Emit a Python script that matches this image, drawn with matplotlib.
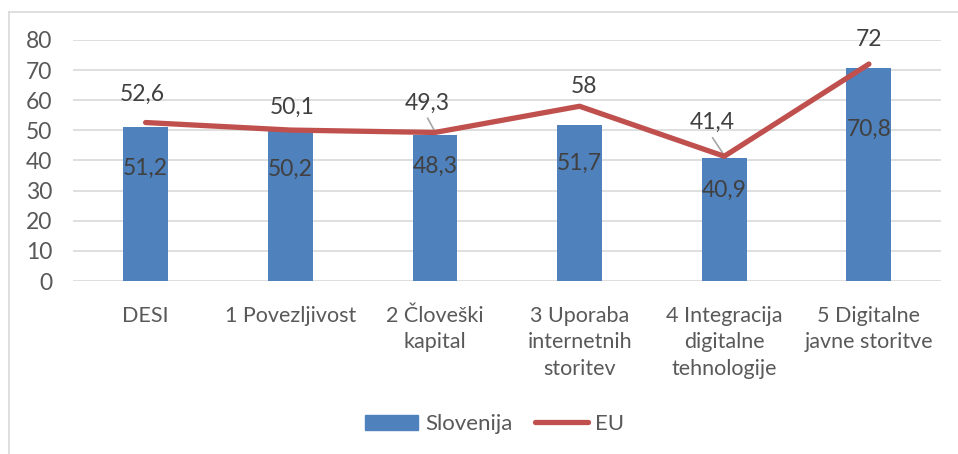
import matplotlib.pyplot as plt
import numpy as np
from matplotlib.lines import Line2D
from matplotlib.patches import Patch

plt.rcParams['font.family'] = ['Lato', 'DejaVu Sans']

categories = ["DESI", "1 Povezljivost", "2 Človeški\nkapital",
              "3 Uporaba\ninternetnih\nstoritev", "4 Integracija\ndigitalne\ntehnologije",
              "5 Digitalne\njavne storitve"]
slovenija = [51.2, 50.2, 48.3, 51.7, 40.9, 70.8]
eu = [52.6, 50.1, 49.3, 58, 41.4, 72]

# label positions (data units)
slo_label_y = [37.5, 37.2, 37.9, 39.2, 30.2, 50.2]
eu_label_y = [61.8, 57.8, 59.1, 64.5, 52.8, 80.0]
eu_label_dx = [-0.02, 0.01, -0.05, 0.03, -0.08, 0.0]

blue = "#4F81BD"
red = "#C0504D"
txt = "#404040"

fig = plt.figure(figsize=(9.58, 4.54), dpi=100)
ax = fig.add_axes([0.0765, 0.381, 0.906, 0.531])

# frame around the chart (only top and left visible)
fig.add_artist(Line2D([9/958, 9/958], [0, 1 - 12/454], transform=fig.transFigure,
                      color="#D9D9D9", lw=1.2))
fig.add_artist(Line2D([9/958, 1], [1 - 12/454, 1 - 12/454], transform=fig.transFigure,
                      color="#D9D9D9", lw=1.2))

x = np.arange(len(categories))
ax.bar(x, slovenija, width=0.31, color=blue, zorder=2)
ax.plot(x, eu, color=red, lw=3.8, solid_capstyle="round", zorder=3)

for i in range(len(x)):
    ax.text(x[i], slo_label_y[i], f"{slovenija[i]:g}".replace(".", ","),
            ha="center", va="center", fontsize=16.5, color=txt, zorder=4)
    ax.text(x[i] + eu_label_dx[i], eu_label_y[i], f"{eu[i]:g}".replace(".", ","),
            ha="center", va="center", fontsize=16.5, color=txt, zorder=4)

# leader lines
ax.plot([1.95, 2.0], [54.0, 49.6], color="#A6A6A6", lw=1.2, zorder=2)
ax.plot([3.92, 4.0], [47.5, 41.7], color="#A6A6A6", lw=1.2, zorder=2)

ax.set_xlim(-0.5, 5.5)
ax.set_ylim(0, 80)
ax.set_yticks(np.arange(0, 81, 10))
ax.yaxis.grid(True, color="#D9D9D9", lw=1.2)
ax.set_axisbelow(True)
for s in ax.spines.values():
    s.set_visible(False)
ax.tick_params(axis="both", length=0, colors="#595959")
ax.tick_params(axis="y", pad=15, labelsize=16.5)
ax.tick_params(axis="x", pad=18, labelsize=15.5)
ax.set_xticks(x)
ax.set_xticklabels(categories, linespacing=1.4)

handles = [Patch(color=blue, label="Slovenija"),
           Line2D([], [], color=red, lw=3.8, solid_capstyle="round", label="EU")]
fig.legend(handles=handles, loc="center", bbox_to_anchor=(0.516, 1 - 424/454), ncol=2,
           frameon=False, fontsize=16, labelcolor="#595959", handlelength=2.4,
           handleheight=0.65, columnspacing=1.0, handletextpad=0.3)

fig.savefig("out.png", dpi=100)
